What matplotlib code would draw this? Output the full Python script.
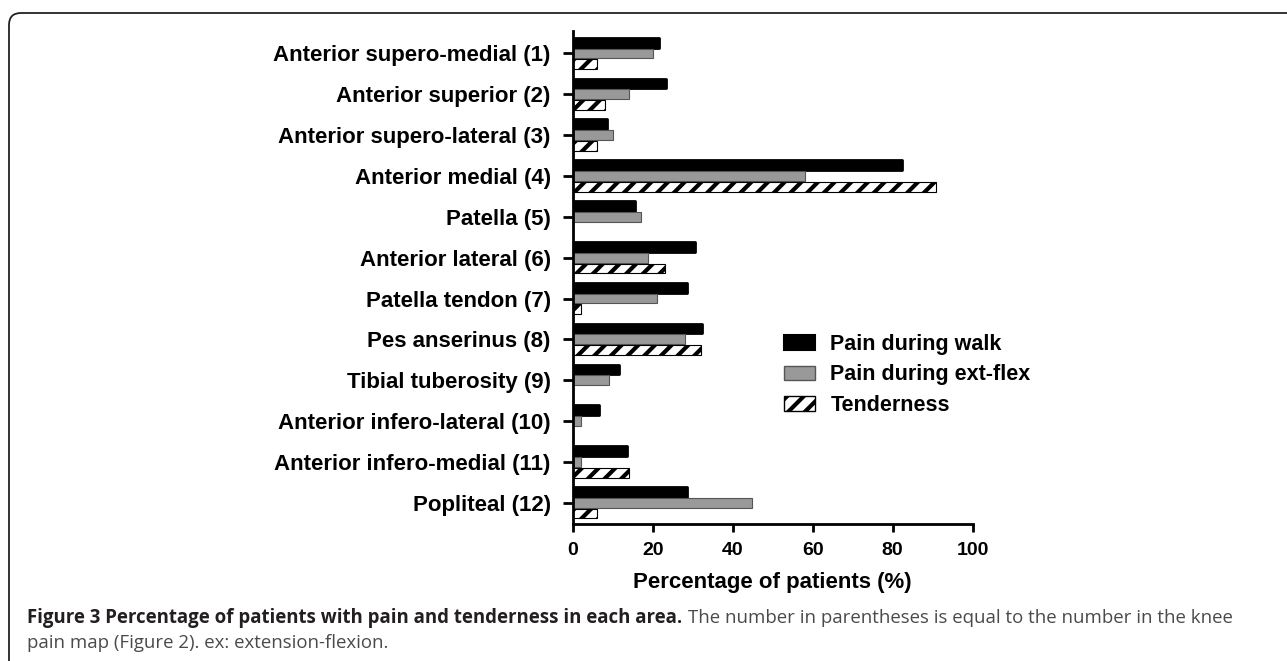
import matplotlib
matplotlib.use("Agg")
import matplotlib.pyplot as plt
import numpy as np
from matplotlib.patches import FancyBboxPatch, Patch
from matplotlib.transforms import IdentityTransform

# data (percent of patients)
areas = ["Anterior supero-medial (1)", "Anterior superior (2)", "Anterior supero-lateral (3)",
         "Anterior medial (4)", "Patella (5)", "Anterior lateral (6)", "Patella tendon (7)",
         "Pes anserinus (8)", "Tibial tuberosity (9)", "Anterior infero-lateral (10)",
         "Anterior infero-medial (11)", "Popliteal (12)"]
pain_walk = [21.5, 23.3, 8.5, 82.3, 15.5, 30.5, 28.5, 32.3, 11.5, 6.5, 13.5, 28.5]
pain_extflex = [20.0, 14.0, 10.0, 58.0, 17.0, 18.8, 21.0, 28.0, 9.0, 2.0, 2.0, 44.8]
tenderness = [6.0, 8.0, 6.0, 90.8, 0.0, 23.0, 2.0, 32.0, 0.0, 0.0, 14.0, 6.0]
series_names = ["Pain during walk", "Pain during ext-flex", "Tenderness"]
xticks = [0, 20, 40, 60, 80, 100]

plt.rcParams["font.family"] = ["Liberation Sans", "DejaVu Sans"]
plt.rcParams["font.weight"] = "bold"
plt.rcParams["hatch.linewidth"] = 3.0

W, H = 1287, 661
fig = plt.figure(figsize=(W / 100, H / 100), dpi=100)

# axes placed in pixel terms
x0, x1, ytop, ybot = 573, 972.5, 31, 524
ax = fig.add_axes([x0 / W, 1 - ybot / H, (x1 - x0) / W, (ybot - ytop) / H])

y = np.arange(len(areas))
h = 0.24
off = 0.265
ax.barh(y - off, pain_walk, height=h, color="black", edgecolor="black", linewidth=2,
        joinstyle="round")
ax.barh(y, pain_extflex, height=h, color="#999999", edgecolor="#555555", linewidth=0.8)
ax.barh(y + off, tenderness, height=h, color="white", edgecolor="black", linewidth=0.8, hatch="//")

ax.set_xlim(0, 100)
ax.set_ylim(len(areas) - 1 + 0.52, -0.55)
ax.set_yticks(y)
ax.set_yticklabels(areas, fontsize=16, fontweight="bold")
ax.set_xticks(xticks)
ax.set_xticklabels([str(t) for t in xticks], fontsize=14, fontweight="bold")
ax.set_xlabel("Percentage of patients (%)", fontsize=16, fontweight="bold", labelpad=9)

for s in ["top", "right"]:
    ax.spines[s].set_visible(False)
for s in ["left", "bottom"]:
    ax.spines[s].set_linewidth(2)
ax.tick_params(axis="y", length=7, width=2, pad=9)
ax.tick_params(axis="x", length=6, width=2, pad=7)

handles = [Patch(facecolor="black", edgecolor="black", linewidth=1.5, joinstyle="round"),
           Patch(facecolor="#999999", edgecolor="#555555"),
           Patch(facecolor="white", edgecolor="black", hatch="//")]
ax.legend(handles, series_names, loc="upper left",
          bbox_to_anchor=((784 - x0) / (x1 - x0), (ybot - 334) / (ybot - ytop)),
          frameon=False, handlelength=1.45, handleheight=0.65,
          handletextpad=0.7, labelspacing=0.44, borderpad=0, borderaxespad=0,
          prop={"weight": "bold", "size": 15.5})

# rounded frame around the figure (only top-left corner visible)
frame = FancyBboxPatch((9, -40), W + 20, H + 40 - 13, boxstyle="round,pad=0,rounding_size=12",
                       transform=IdentityTransform(), facecolor="none", edgecolor="#222222",
                       linewidth=1.3)
fig.add_artist(frame)

# caption
cap_font = ["Open Sans", "DejaVu Sans"]
t1 = fig.text(27 / W, 1 - 618 / H, "Figure 3 Percentage of patients with pain and tenderness in each area.",
              fontsize=13.4, fontweight="bold", family=cap_font, color="#231f20", va="center")
fig.canvas.draw()
bb = t1.get_window_extent(renderer=fig.canvas.get_renderer())
fig.text((bb.x1 + 6) / W, 1 - 618 / H,
         "The number in parentheses is equal to the number in the knee",
         fontsize=13.4, fontweight="normal", family=cap_font, color="#4a4a4a", va="center")
fig.text(27 / W, 1 - 643 / H, "pain map (Figure 2). ex: extension-flexion.",
         fontsize=13.4, fontweight="normal", family=cap_font, color="#4a4a4a", va="center")

fig.savefig("out.png", dpi=100)
